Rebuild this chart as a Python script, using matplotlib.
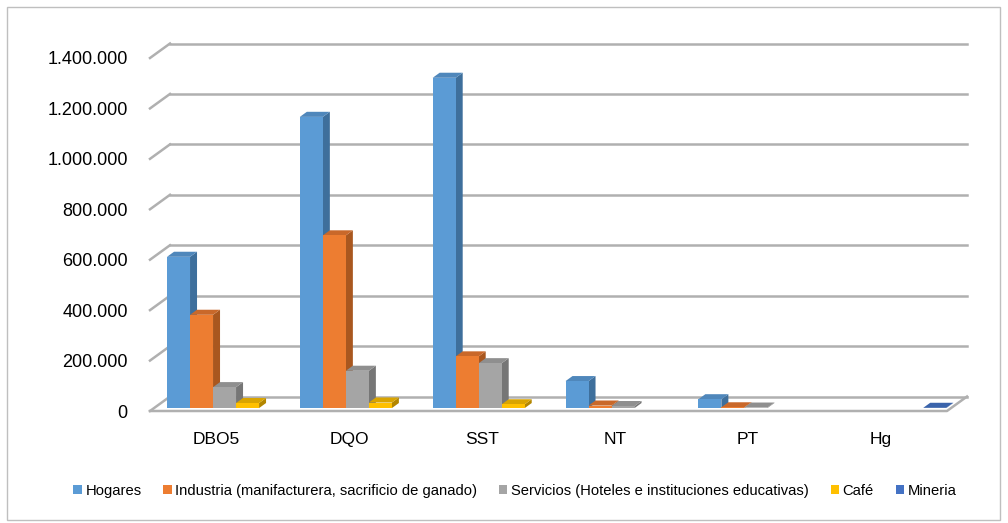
import numpy as np
import matplotlib.pyplot as plt
from matplotlib.patches import Polygon, Rectangle, Patch

# Datos: carga contaminante por sector
categorias = ['DBO5', 'DQO', 'SST', 'NT', 'PT', 'Hg']
series = ['Hogares',
          'Industria (manifacturera, sacrificio de ganado)',
          'Servicios (Hoteles e instituciones educativas)',
          'Café',
          'Mineria']
hogares = [600000, 1155000, 1310000, 107000, 35000, np.nan]
industria = [370000, 685000, 205000, 10000, 3000, np.nan]
servicios = [83000, 148000, 178000, 8000, 2000, np.nan]
cafe = [20000, 22000, 15000, np.nan, np.nan, np.nan]
mineria = [np.nan, np.nan, np.nan, np.nan, np.nan, 1000]
ticks_y = [0, 200000, 400000, 600000, 800000, 1000000, 1200000, 1400000]

valores = [hogares, industria, servicios, cafe, mineria]
col_frente = ['#5b9bd5', '#ed7d31', '#a5a5a5', '#ffc000', '#4472c4']
col_tapa = ['#4f87bb', '#c9682a', '#8f8f8f', '#d9a400', '#3a63ab']
col_lado = ['#3e6f9c', '#a9571f', '#767676', '#b38600', '#2c4f8c']

# profundidad del "piso" 3D en unidades de datos
DX = 0.1506
DY = 57500
F = 0.2      # posición de las barras dentro de la profundidad
D = 0.35     # profundidad de cada barra
G = 0.098    # margen izquierdo del grupo
W = 0.1732   # ancho de cada barra

fuente = ['Liberation Sans', 'DejaVu Sans']

fig = plt.figure(figsize=(10.08, 5.23), dpi=100)
ax = fig.add_axes([150 / 1008, 1 - 411 / 523, 797 / 1008, 353 / 523])
ax.set_xlim(0, 6)
ax.set_ylim(0, 1400000)
for s in ax.spines.values():
    s.set_visible(False)

gris = '#b0b0b0'
# lineas de cuadricula: pared del fondo + diagonal del costado izquierdo
for v in ticks_y:
    ax.plot([0, DX], [v, v + DY], color=gris, lw=1.8, clip_on=False, zorder=1)
    ax.plot([DX, 6 + DX], [v + DY, v + DY], color=gris, lw=1.8,
            clip_on=False, zorder=1)
# piso
ax.plot([0, 6, 6 + DX], [0, 0, DY], color=gris, lw=1.8, clip_on=False, zorder=1)

# barras pseudo 3D
for i in range(len(categorias)):
    for j, serie in enumerate(valores):
        v = serie[i]
        if np.isnan(v):
            continue
        x0 = i + G + j * W + F * DX
        y0 = F * DY
        ddx, ddy = D * DX, D * DY
        ax.add_patch(Polygon([(x0 + W, y0), (x0 + W + ddx, y0 + ddy),
                              (x0 + W + ddx, y0 + v + ddy), (x0 + W, y0 + v)],
                             closed=True, facecolor=col_lado[j], edgecolor='none',
                             clip_on=False, zorder=3))
        ax.add_patch(Polygon([(x0, y0 + v), (x0 + W, y0 + v),
                              (x0 + W + ddx, y0 + v + ddy), (x0 + ddx, y0 + v + ddy)],
                             closed=True, facecolor=col_tapa[j], edgecolor='none',
                             clip_on=False, zorder=3))
        ax.add_patch(Rectangle((x0, y0), W, v, facecolor=col_frente[j],
                               edgecolor='none', clip_on=False, zorder=3))

ax.set_yticks(ticks_y)
ax.set_yticklabels([f'{t:,}'.replace(',', '.') for t in ticks_y],
                   fontsize=13, family=fuente)
ax.set_xticks(np.arange(len(categorias)) + 0.5)
ax.set_xticklabels(categorias, fontsize=12.5, family=fuente)
ax.tick_params(axis='y', length=0, pad=16, colors='black')
ax.tick_params(axis='x', length=0, pad=15, colors='black')

handles = [Patch(facecolor=c, edgecolor='none') for c in col_frente]
fig.legend(handles, series, loc='center', bbox_to_anchor=(0.511, 0.061), ncol=5,
           frameon=False, handlelength=0.55, handleheight=0.55, handletextpad=0.25,
           columnspacing=1.5, prop={'family': fuente, 'size': 10.6})

# borde del area del grafico
fig.add_artist(Rectangle((7 / 1008, 3 / 523), 993 / 1008, 513 / 523,
                         transform=fig.transFigure, fill=False,
                         edgecolor='#bfbfbf', lw=1))

fig.savefig('out.png', dpi=100)
